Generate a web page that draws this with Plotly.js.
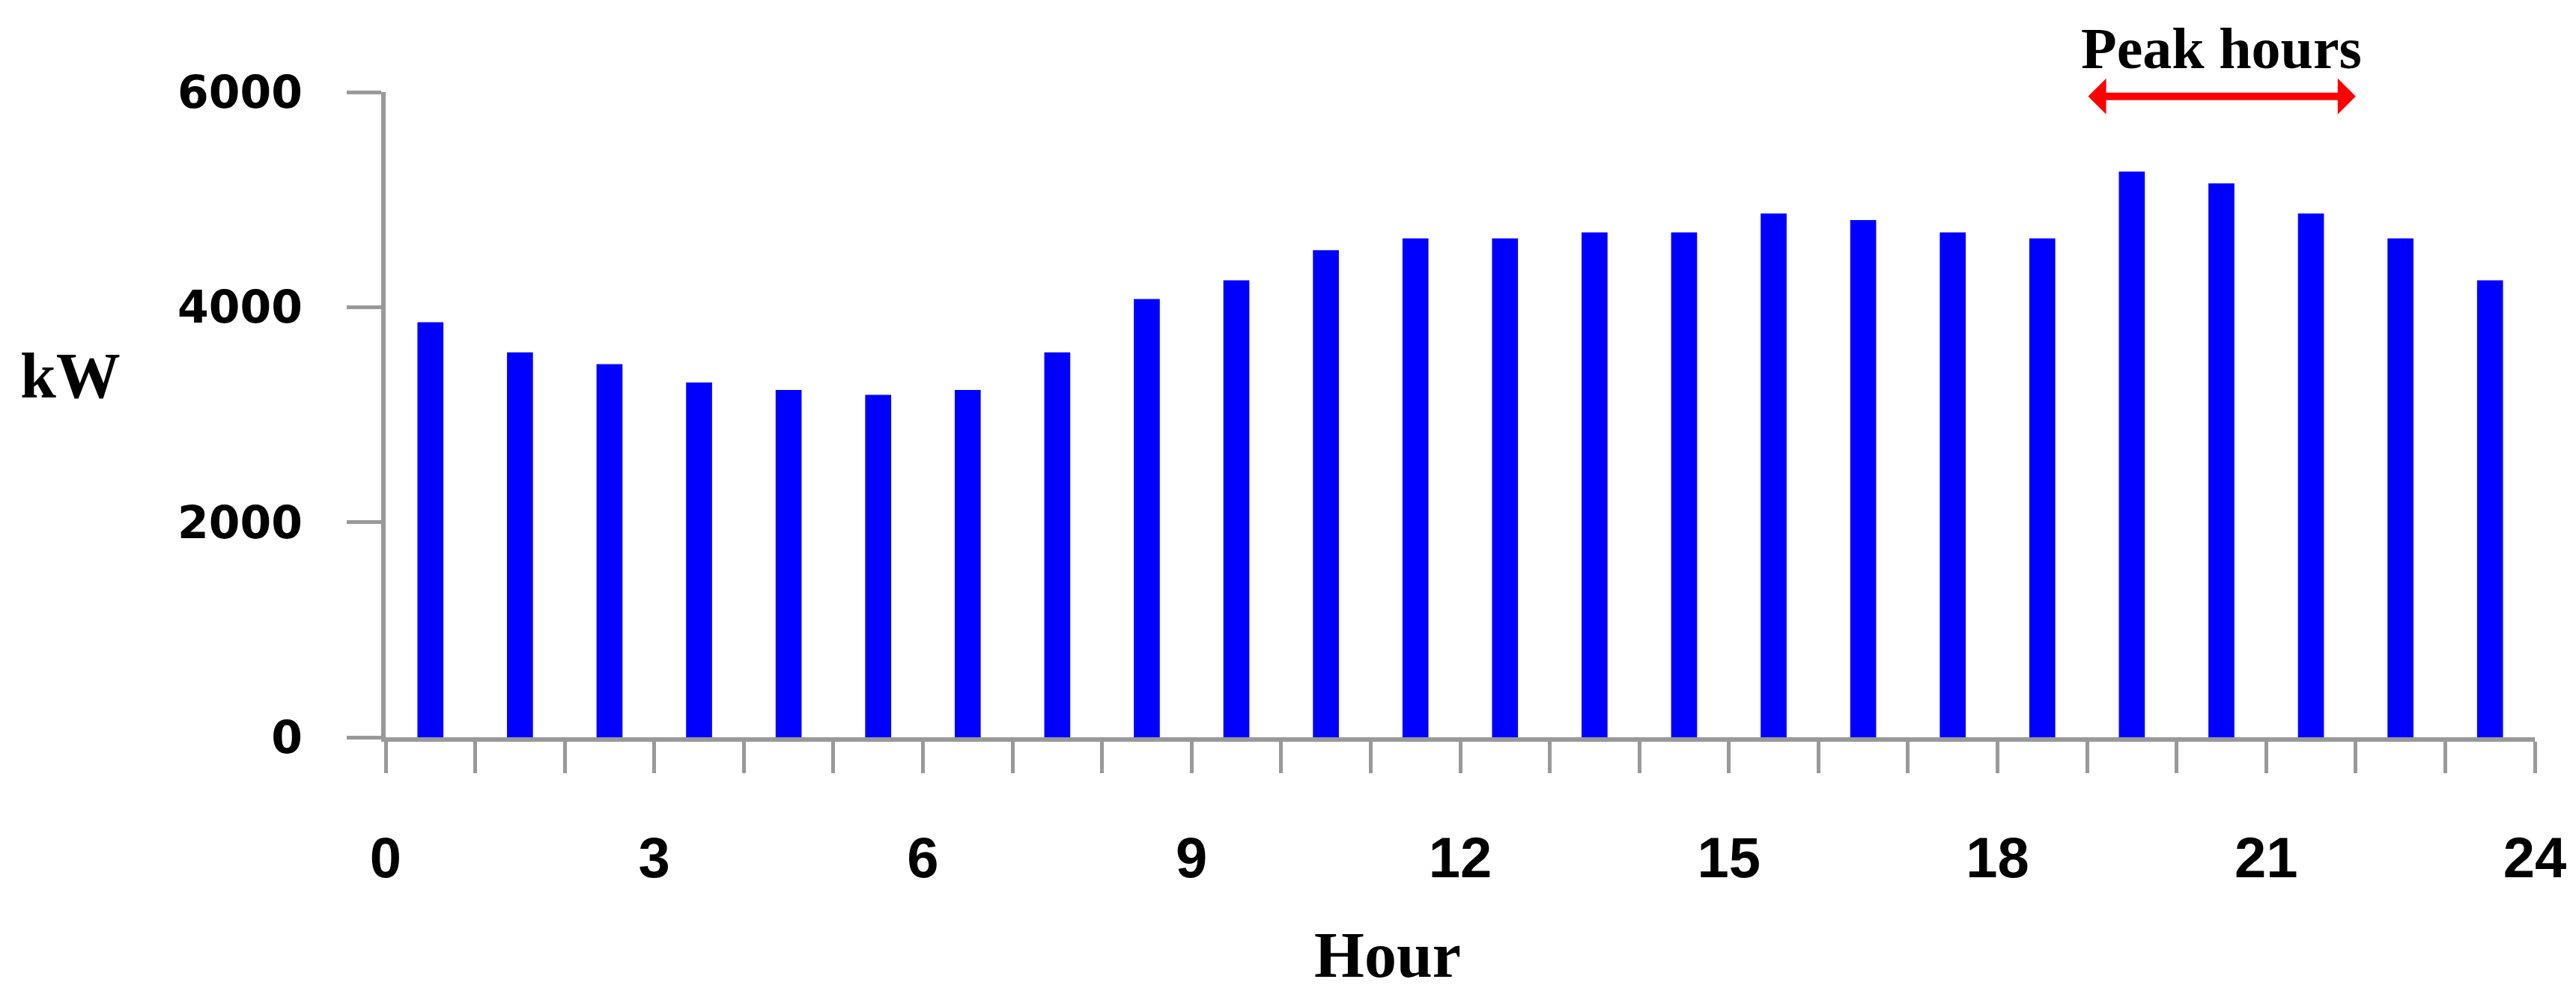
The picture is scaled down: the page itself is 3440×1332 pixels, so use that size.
<!DOCTYPE html>
<html>
<head>
<meta charset="utf-8">
<script src="https://cdn.plot.ly/plotly-3.0.1.min.js"></script>
<style>
  html, body { margin: 0; padding: 0; background: #ffffff; }
  #chart { width: 3440px; height: 1332px; }
</style>
</head>
<body>
<div id="chart"></div>
<script>
// ---- data ----
const hours = [0, 1, 2, 3, 4, 5, 6, 7, 8, 9, 10, 11, 12, 13, 14, 15, 16, 17, 18, 19, 20, 21, 22, 23];
const loadKW = [3860, 3580, 3470, 3300, 3230, 3185, 3230, 3580, 4075, 4250, 4530, 4640,
                4640, 4695, 4695, 4870, 4810, 4695, 4640, 5260, 5150, 4870, 4640, 4250];
const hourTickVals = [0, 3, 6, 9, 12, 15, 18, 21, 24];
const hourTickText = ['0', '3', '6', '9', '12', '15', '18', '21', '24'];
const kwTickVals = [0, 2000, 4000, 6000];
const kwTickText = ['0', '2000', '4000', '6000'];
const peakStart = 19;
const peakEnd = 22;
const peakLabel = 'Peak hours';
const xTitle = 'Hour';
const yTitle = 'kW';

// ---- styles ----
const axisGray = '#999999';
const serif = 'Liberation Serif, Times New Roman, serif';

const trace = {
  type: 'bar',
  x: hours,
  y: loadKW,
  width: 0.29,
  offset: 0.355,
  marker: { color: '#0000ff', line: { width: 0 } },
  hoverinfo: 'x+y'
};

const layout = {
  width: 3440,
  height: 1332,
  paper_bgcolor: '#ffffff',
  plot_bgcolor: '#ffffff',
  showlegend: false,
  margin: { l: 515, r: 55, t: 122.5, b: 347, pad: 0 },
  xaxis: {
    type: 'linear',
    range: [0, 24],
    tickmode: 'array',
    tickvals: hourTickVals,
    ticktext: hourTickText,
    ticks: 'outside',
    ticklen: 42,
    tickwidth: 5,
    tickcolor: axisGray,
    minor: { dtick: 1, tick0: 0, ticks: 'outside', ticklen: 42, tickwidth: 5, tickcolor: axisGray, showgrid: false },
    showline: true,
    linecolor: axisGray,
    linewidth: 6,
    showgrid: false,
    zeroline: false,
    ticklabelstandoff: 48,
    tickfont: { family: 'Liberation Sans Narrow, Arial Narrow, Liberation Sans, Arial, sans-serif', size: 76, color: '#000000', weight: 'bold' },
    fixedrange: true,
    automargin: false
  },
  yaxis: {
    range: [0, 6000],
    tickmode: 'array',
    tickvals: kwTickVals,
    ticktext: kwTickText,
    ticks: 'outside',
    ticklen: 46,
    tickwidth: 5,
    tickcolor: axisGray,
    showline: true,
    linecolor: axisGray,
    linewidth: 6,
    showgrid: false,
    zeroline: false,
    ticklabelstandoff: 47,
    tickfont: { family: 'DejaVu Sans, Verdana, sans-serif', size: 60, color: '#000000', weight: 'bold' },
    fixedrange: true,
    automargin: false
  },
  annotations: [
    {
      xref: 'x', yref: 'y', axref: 'x', ayref: 'y',
      x: peakEnd, y: 5960, ax: peakStart, ay: 5960,
      text: '', showarrow: true,
      arrowside: 'end+start',
      arrowhead: 1, startarrowhead: 1,
      arrowsize: 0.8, startarrowsize: 0.8,
      arrowwidth: 10, arrowcolor: '#ff0000',
      standoff: 0, startstandoff: 0
    },
    {
      xref: 'x', yref: 'paper',
      x: (peakStart + peakEnd) / 2, y: 1.0678,
      xanchor: 'center', yanchor: 'middle',
      text: peakLabel, showarrow: false,
      font: { family: serif, size: 78, color: '#000000', weight: 'bold' }
    },
    {
      xref: 'paper', yref: 'paper',
      x: -0.1467, y: 0.56,
      xanchor: 'center', yanchor: 'middle',
      text: yTitle, showarrow: false,
      font: { family: serif, size: 86, color: '#000000', weight: 'bold' }
    },
    {
      xref: 'paper', yref: 'paper',
      x: 0.4662, y: -0.3374,
      xanchor: 'center', yanchor: 'middle',
      text: xTitle, showarrow: false,
      font: { family: serif, size: 86, color: '#000000', weight: 'bold' }
    }
  ]
};

Plotly.newPlot('chart', [trace], layout, { displayModeBar: false, staticPlot: true });
</script>
</body>
</html>
